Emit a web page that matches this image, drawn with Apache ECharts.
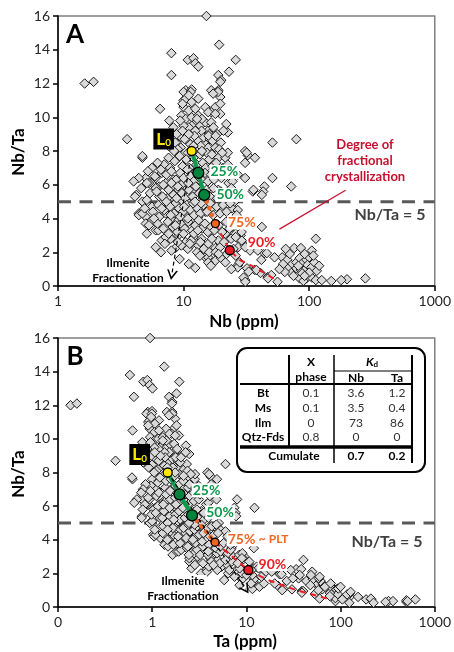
<!DOCTYPE html>
<html>
<head>
<meta charset="utf-8">
<script src="https://cdn.jsdelivr.net/npm/echarts@6/dist/echarts.min.js"></script>
<style>
  html, body { margin: 0; padding: 0; background: #fff; }
  #chart { width: 454px; height: 652px; }
</style>
</head>
<body>
<div id="chart"></div>
<script>
// Whole-rock samples: [Nb (ppm), Nb/Ta]
const samples = [
  [15.2,16.0],[19.2,14.3],[8.0,13.8],[10.8,13.4],[12.0,13.5],[12.4,13.2],[13.1,13.0],[26.0,13.4],[8.0,12.5],
  [1.63,12.0],[1.92,12.1],[18.9,12.5],[19.9,12.2],[23.0,12.7],[19.6,12.1],
  [10.4,11.6],[11.6,11.65],[10.0,11.0],[13.1,11.1],[16.6,11.6],[18.9,11.6],[19.6,11.2],[17.9,10.6],[14.9,10.6],
  [16.6,10.3],[6.5,10.5],[18.8,11.5],[17.2,11.4],[10.0,11.5],[11.4,11.5],[10.4,11.1],[11.6,10.9],[11.0,11.3],
  [19.6,10.8],[19.6,10.2],[15.7,10.3],[17.9,10.2],[10.0,10.6],[11.0,10.4],[12.4,10.5],[9.6,10.1],[10.4,9.9],
  [11.6,10.0],[13.1,10.1],[12.6,9.7],[11.6,9.5],[13.6,9.5],[14.9,9.7],[16.6,9.7],[15.7,9.2],[13.9,9.2],
  [12.4,9.2],[11.0,9.4],[10.0,9.5],[21.9,9.6],[22.5,9.1],[51,8.5],[3.55,8.7],[79,8.7],
  [7.7,9.8],[8.3,9.4],[9.1,8.9],[8.6,8.5],[9.6,8.8],[10.7,8.6],[13.1,8.6],[14.9,8.5],[15.7,8.2],[17.9,8.2],
  [18.9,7.6],[21.5,7.6],[30.9,8.0],[32.4,7.75],[30.9,7.3],[37,7.6],[22.5,7.9],[31.8,7.9],
  [4.7,7.6],[7.6,7.6],[8.8,7.5],[5.0,6.4],[4.4,6.4],[5.6,6.1],[6.4,5.9],[7.2,6.1],[8.1,5.9],[9.1,5.7],
  [10.4,5.9],[11.6,5.6],[13.1,5.8],[15.7,5.6],[18.9,5.7],[22.8,6.1],[30.9,6.4],[44,5.9],[51,6.4],[35.6,5.6],
  [72,5.9],[36,5.7],[43,5.6],[42,5.4],[42,3.5],
  [4.0,6.2],[5.3,6.1],[6.0,5.8],[6.9,6.0],[8.3,6.3],[9.6,6.0],[4.2,5.4],[4.7,5.0],[5.1,5.1],[5.6,4.7],
  [6.4,5.3],[7.4,5.2],[8.6,4.9],[9.6,5.1],[11.0,4.9],[12.4,4.7],
  [4.4,4.3],[5.0,4.1],[5.6,3.9],[6.4,4.1],[7.2,4.3],[8.1,4.0],[9.1,3.9],[10.4,4.2],[11.6,3.9],[13.1,4.1],
  [14.9,4.4],[16.6,4.6],
  [5.1,3.1],[6.0,3.3],[6.7,2.7],[7.9,2.8],[9.1,3.0],[10.4,2.6],[12.0,2.9],[13.9,2.8],[13.1,2.4],[15.7,2.5],
  [17.9,2.25],[18.9,2.7],[21.5,3.1],[23.9,2.8],[27.2,2.3],[28.5,3.0],
  [6.6,2.0],[8.6,2.25],[12.4,1.07],[14.9,1.7],[17.9,1.5],[19.9,1.65],[27.2,1.25],[30.9,0.35],[36.9,0.95],
  [41,0.77],[46.7,0.53],
  [4.1,5.3],[4.4,4.2],[4.7,4.3],[5.0,3.7],[5.1,6.1],[6.0,6.4],[6.7,6.7],[6.3,3.3],[7.2,2.9],[11,2.3],
  [15.7,1.7],[15.7,1.4],[4.7,7.7],
  [113,2.8],[76,2.25],[86,2.25],[105,2.1],[61,1.7],[67,1.55],[72,1.25],[79,1.4],[84,1.65],[88,1.35],
  [95,1.55],[100,1.7],[79,1.05],[86,0.95],[95,1.05],[67,1.05],[72,0.77],[64,0.83],[97,1.25],[104,1.1],
  [84,0.45],[95,0.45],[105,0.5],[113,0.35],[126,0.35],[150,0.3],[200,0.4],[280,0.45],[90,0.3],[180,0.35],
  [70,1.9],[92,1.9],[82,1.2],[110,1.4],[62,1.3],[75,0.6],[100,0.8],[88,0.75],[115,0.9],[58,1.0],
  [65,2.2],[108,1.8],[120,1.2],[92,0.6],
  [26.7,2.85],[30.9,2.4],[33.8,2.1],[41.6,1.55],[44,1.95],[38,0.95],[39,2.1],[46,1.95],[53,1.7],[30,0.5],
  [32,1.05],[50,0.65],[56,0.25],[47,0.45],[27,1.1],[33,0.85],[31,0.25],[26,3.1],[29,2.7],[31,2.3],
  [24.3,4.6],[27,4.5],[26.5,4.2],[29,3.8],[24.3,3.5],[29,3.2],[26,2.9],
  [9.5,8.2],[10.2,8.7],[11.3,8.4],[12.2,8.9],[12.8,8.1],[13.7,8.3],[14.5,8.8],[15.3,7.9],[16.2,8.7],
  [10.8,7.9],[9.0,8.1],[8.4,8.0],[7.6,8.3],[6.9,8.6],
  [7.0,7.2],[7.8,7.0],[8.5,7.4],[9.3,7.7],[9.8,7.1],[10.5,7.5],[11.1,7.0],[12.0,7.6],[12.7,7.2],[13.5,7.8],
  [14.2,7.3],[15.0,7.0],[16.0,7.5],[17.0,7.1],[18.2,7.3],[6.2,7.3],[5.6,7.0],[20.5,7.0],[22.5,7.2],
  [5.2,6.8],[5.9,6.5],[6.6,6.9],[7.3,6.6],[8.0,6.8],[8.7,6.3],[9.4,6.7],[10.0,6.4],[10.7,6.9],[11.4,6.5],
  [12.0,6.2],[12.6,6.8],[13.9,6.3],[14.8,6.7],[15.6,6.2],[16.5,6.6],[17.5,6.3],[18.8,6.8],[20.0,6.4],
  [21.5,6.7],[24.5,6.2],[27.0,6.6],
  [4.6,5.8],[5.4,5.5],[6.1,5.6],[6.8,5.3],[7.6,5.7],[8.3,5.4],[9.0,5.9],[9.7,5.5],[10.3,5.2],[11.0,5.7],
  [11.8,5.3],[12.5,5.9],[13.3,5.5],[14.0,5.1],[15.2,5.7],[16.2,5.3],[17.3,5.8],[18.5,5.2],[19.8,5.6],
  [21.0,5.3],[22.8,5.5],[25.5,5.0],[28,5.5],[24,5.8],
  [4.9,4.6],[5.7,4.4],[6.3,4.8],[7.0,4.5],[7.8,4.7],[8.4,4.3],[9.2,4.6],[9.9,4.4],[10.6,4.8],[11.3,4.5],
  [12.1,4.2],[12.9,4.6],[13.6,4.3],[14.4,4.8],[15.4,4.4],[16.3,4.9],[17.2,4.2],[18.3,4.7],[19.5,4.3],
  [20.6,4.8],[22.0,4.4],[23.5,4.9],
  [5.3,3.6],[6.2,3.7],[6.9,3.4],[7.5,3.8],[8.2,3.5],[8.9,3.2],[9.5,3.7],[10.2,3.4],[10.9,3.8],[11.7,3.3],
  [12.4,3.6],[13.2,3.9],[14.0,3.4],[14.8,3.7],[15.6,3.2],[16.6,3.5],[17.6,3.3],[19.0,3.6],[20.3,3.2],
  [21.8,3.8],[23.2,3.4],[25,3.7],
  [6.0,2.3],[7.1,2.5],[8.0,2.1],[9.6,2.4],[10.8,2.2],[11.5,2.7],[12.8,2.0],[13.6,2.6],[14.5,2.2],[16.0,2.0],
  [16.8,2.8],[18.0,2.0],[19.5,2.3],[21.0,2.6],[22.0,1.9],[25,2.2],
  [9.3,1.6],[11.0,1.3],[13.5,1.8],[16.5,1.2],[19.0,1.9],[21.5,1.4],[24,1.0],[26,1.8],[28,1.4],
  [9.8,10.8],[14.0,9.9],[16.0,9.0],[17.3,9.4],[18.5,9.0],[19.8,8.5],[20.8,9.2],[8.8,9.0],[9.4,9.8],[12.8,9.9],
  [15.8,8.9],[17.0,8.6],[18.0,8.9],[19.2,8.1],[20.3,7.9],[16.8,7.8],[14.0,8.0],[12.0,8.3],[11.0,9.0],[9.8,9.2],
  [7.3,5.0],[8.8,5.2],[10.1,4.7],[11.9,4.9],[13.8,4.9],[12.3,5.0],[7.9,4.2],[9.4,4.1],[10.8,4.0],[6.7,4.6],
  [8.6,3.6],[10.0,3.1],[12.1,3.1],[13.0,3.3],[7.6,3.1],[11.2,2.5],[9.0,2.6],[5.8,4.0],[8.0,6.1],[10.9,6.1]
];

// Rayleigh fractionation path, Nb vs Nb/Ta: L0, 25 %, 50 %, 75 %, 90 % crystallised
const stepLabels = ['L0', '25%', '50%', '75%', '90%'];
const stepsNb = [[11.6, 8.0], [13.1, 6.7], [14.6, 5.4], [17.9, 3.7], [23.3, 2.12]];
const tailNb = [[28, 1.54], [36.8, 1.12], [44, 0.77], [55, 0.33]];
const ilmeniteNb = [[11.6, 8.0], [8.05, 0.65]];

// Same path in Ta vs Nb/Ta space
const stepsTa = [[1.46, 8.0], [1.95, 6.7], [2.65, 5.45], [4.65, 3.85], [10.5, 2.2]];
const tailTa = [[17, 1.6], [34, 1.0], [72, 0.5]];
const ilmeniteTa = [[1.46, 8.0], [9.87, 1.05]];

// Pointer from the "Degree of fractional crystallization" note, in Nb vs Nb/Ta space
const notePointer = [[195, 5.68], [58, 3.37]];

const ratioLimit = 5;
const yTicks = { min: 0, max: 16, step: 2 };
const xRangeNb = [1, 1000];
const xRangeTa = [0.1, 1000];

// Partition coefficient table
const tableHead = ['X', 'phase', 'Nb', 'Ta'];
const phases = ['Bt', 'Ms', 'Ilm', 'Qtz-Fds'];
const xPhase = ['0.1', '0.1', '0', '0.8'];
const kdNb = ['3.6', '3.5', '73', '0'];
const kdTa = ['1.2', '0.4', '86', '0'];
const cumulate = ['0.7', '0.2'];

const FONT = 'Lato, "Open Sans", "DejaVu Sans", sans-serif';
const GREEN = '#0e9a4c', ORANGE = '#f26522', RED = '#ec1c24', CRIMSON = '#c8102e';

const samplesTa = samples.map(([nb, r]) => [nb / r, r]);

function xAxis(idx, range, fmt) {
  return {
    type: 'log', logBase: 10, gridIndex: idx, min: range[0], max: range[1],
    axisLine: { lineStyle: { color: '#000', width: 1.5 } },
    axisTick: { length: 5, lineStyle: { color: '#000', width: 1.5 } },
    minorTick: { show: false },
    splitLine: { show: false },
    axisLabel: { fontSize: 14, color: '#262626', margin: 8, fontFamily: FONT, formatter: fmt }
  };
}
function yAxis(idx) {
  return {
    type: 'value', gridIndex: idx, min: yTicks.min, max: yTicks.max, interval: yTicks.step,
    axisLine: { show: true, lineStyle: { color: '#000', width: 1.5 } },
    axisTick: { show: true, length: 5, lineStyle: { color: '#000', width: 1.5 } },
    splitLine: { show: false },
    axisLabel: { fontSize: 14, color: '#262626', margin: 8, fontFamily: FONT }
  };
}

function refLine(idx, range) {
  return {
    type: 'line', xAxisIndex: idx, yAxisIndex: idx, z: 1, silent: true,
    data: [[range[0], ratioLimit], [range[1], ratioLimit]],
    symbol: 'none', lineStyle: { color: '#595959', width: 3, type: [13, 8.5] }
  };
}
function cloud(idx, data) {
  return {
    type: 'scatter', xAxisIndex: idx, yAxisIndex: idx, z: 2, data,
    symbol: 'diamond', symbolSize: 9.5,
    itemStyle: { color: '#d9d9d9', borderColor: '#1a1a1a', borderWidth: 1, opacity: 1 }
  };
}
function pathLine(idx, data, style) {
  return {
    type: 'line', xAxisIndex: idx, yAxisIndex: idx, z: 4, data,
    symbol: 'none', silent: true, lineStyle: style
  };
}

const chevron = 'path://M0,10L5,0L10,10L8.4,10L5,3.2L1.6,10Z';

function ilmeniteArrow(idx, pts, curve) {
  return {
    type: 'line', xAxisIndex: idx, yAxisIndex: idx, z: 3, data: [], silent: true,
    markLine: {
      silent: true, animation: false,
      symbol: ['none', chevron], symbolSize: [11, 10],
      label: { show: false },
      lineStyle: { color: '#000', width: 1.2, type: [4, 3], curveness: curve, opacity: 1 },
      data: [[{ coord: pts[0] }, { coord: pts[1] }]]
    }
  };
}

const pctColors = ['#ffe600', '#00843d', '#00843d', ORANGE, RED];
const pctText = [null, GREEN, GREEN, ORANGE, RED];
const pctSize = [9, 11, 11, 8, 9];

function milestones(idx, steps, labelLayout, l0Offset) {
  return {
    type: 'scatter', xAxisIndex: idx, yAxisIndex: idx, z: 6,
    data: steps.map((p, i) => {
      let label;
      if (i === 0) {
        label = {
          show: true, position: 'inside', offset: l0Offset,
          formatter: '{m|L}{s|0}', backgroundColor: '#000', padding: [1, 3, 0, 3],
          rich: {
            m: { color: '#ffe600', fontSize: 17, fontWeight: 'bold', fontFamily: FONT, lineHeight: 20 },
            s: { color: '#ffe600', fontSize: 10, fontWeight: 'bold', fontFamily: FONT, lineHeight: 20, padding: [7, 0, 0, 0] }
          }
        };
      } else {
        const lay = labelLayout[i - 1];
        label = {
          show: true, position: 'right', distance: lay[0], offset: [0, lay[1]],
          color: pctText[i], fontSize: 14, fontWeight: 'bold', fontFamily: FONT,
          backgroundColor: '#fff', padding: [0, 1],
          formatter: lay[2] || stepLabels[i],
          rich: {
            p: { color: pctText[i], fontSize: 14, fontWeight: 'bold', fontFamily: FONT },
            t: { color: pctText[i], fontSize: 12, fontWeight: 'bold', fontFamily: FONT }
          }
        };
      }
      return {
        value: p, symbol: 'circle', symbolSize: pctSize[i],
        itemStyle: { color: pctColors[i], borderColor: '#000', borderWidth: 1.3, opacity: 1 },
        label
      };
    })
  };
}

function txt(x, y, text, o) {
  return {
    type: 'text', x, y, z: 100, rotation: (o && o.rotation) || 0,
    style: Object.assign({
      text, align: 'center', verticalAlign: 'middle',
      fontFamily: FONT, fontSize: 12, fontWeight: 'bold', fill: '#000'
    }, o && o.style)
  };
}
function seg(x1, y1, x2, y2, w) {
  return { type: 'line', z: 100, shape: { x1, y1, x2, y2 }, style: { stroke: '#000', lineWidth: w } };
}

// Kd table drawn in panel B
const T = { left: 237, top: 348, right: 425, bottom: 472, c0: 263, c1: 311, c2: 356, c3: 397 };
const rowsY = [393, 408, 423, 437];
const tableGraphics = [
  { type: 'rect', z: 99, shape: { x: T.left, y: T.top, width: T.right - T.left, height: T.bottom - T.top, r: 10 },
    style: { fill: '#fff', stroke: '#000', lineWidth: 2 } },
  seg(289, 355, 289, 447, 2),
  seg(334, 355, 334, 463, 1.5),
  seg(412, 355, 412, 463, 2),
  seg(334, 371, 412, 371, 1),
  seg(240, 384, 412, 384, 2),
  seg(240, 447, 412, 447, 3.5),
  txt(T.c1, 362, tableHead[0]),
  txt(T.c1, 377, tableHead[1]),
  { type: 'text', x: 372, y: 362, z: 100, style: {
      text: '{k|K}{d|d}', align: 'center', verticalAlign: 'middle',
      rich: {
        k: { fontFamily: FONT, fontSize: 12, fontWeight: 'bold', fontStyle: 'italic', fill: '#000', lineHeight: 14 },
        d: { fontFamily: FONT, fontSize: 8, fontWeight: 'bold', fill: '#000', lineHeight: 14, padding: [5, 0, 0, 0] }
      } } },
  txt(T.c2, 378, tableHead[2]),
  txt(T.c3, 378, tableHead[3]),
  txt(294, 456, 'Cumulate'),
  txt(T.c2, 456, cumulate[0]),
  txt(T.c3, 456, cumulate[1])
];
phases.forEach((ph, i) => {
  tableGraphics.push(txt(T.c0, rowsY[i], ph));
  tableGraphics.push(txt(T.c1, rowsY[i], xPhase[i], { style: { fontWeight: 'normal', fill: '#333' } }));
  tableGraphics.push(txt(T.c2, rowsY[i], kdNb[i], { style: { fontWeight: 'normal', fill: '#333' } }));
  tableGraphics.push(txt(T.c3, rowsY[i], kdTa[i], { style: { fontWeight: 'normal', fill: '#333' } }));
});

const decade = v => (v < 1 ? '0' : String(Math.round(v)));

const chart = echarts.init(document.getElementById('chart'), null, { renderer: 'canvas' });
chart.setOption({
  animation: false,
  backgroundColor: '#fff',
  grid: [
    { left: 58, top: 16, width: 381, height: 270, show: true, borderColor: '#808080', borderWidth: 1.5 },
    { left: 58, top: 338, width: 381, height: 269, show: true, borderColor: '#808080', borderWidth: 1.5 }
  ],
  xAxis: [xAxis(0, xRangeNb, decade), xAxis(1, xRangeTa, decade)],
  yAxis: [yAxis(0), yAxis(1)],
  series: [
    // Panel A: Nb vs Nb/Ta
    refLine(0, xRangeNb),
    cloud(0, samples),
    ilmeniteArrow(0, ilmeniteNb, 0),
    pathLine(0, stepsNb.slice(0, 3), { color: GREEN, width: 4 }),
    pathLine(0, stepsNb.slice(2, 4), { color: ORANGE, width: 4.5, type: [0.1, 7], cap: 'round' }),
    pathLine(0, [stepsNb[3], stepsNb[4]].concat(tailNb), { color: RED, width: 2, type: [6, 5] }),
    {
      type: 'line', xAxisIndex: 0, yAxisIndex: 0, data: [], z: 7, silent: true,
      markLine: {
        silent: true, symbol: ['none', 'arrow'], symbolSize: [0, 10], label: { show: false },
        lineStyle: { color: CRIMSON, width: 1.2, type: 'solid', curveness: 0.12, opacity: 1 },
        data: [[{ coord: notePointer[0] }, { coord: notePointer[1] }]]
      }
    },
    milestones(0, stepsNb, [[5, -1], [5, 0], [7, -1], [12, -8]], [-28, -12]),

    // Panel B: Ta vs Nb/Ta
    refLine(1, xRangeTa),
    cloud(1, samplesTa),
    ilmeniteArrow(1, ilmeniteTa, -0.15),
    pathLine(1, stepsTa.slice(0, 3), { color: GREEN, width: 4 }),
    pathLine(1, stepsTa.slice(2, 4), { color: ORANGE, width: 4.5, type: [0.1, 7], cap: 'round' }),
    pathLine(1, [stepsTa[3], stepsTa[4]].concat(tailTa), { color: RED, width: 2, type: [6, 5] }),
    milestones(1, stepsTa, [[6, -4], [7, -3], [7, -3, '{p|75%} {t|~ PLT}'], [4, -6]], [-28, -18])
  ],
  graphic: [
    txt(75, 35, 'A', { style: { fontSize: 26 } }),
    txt(75, 357, 'B', { style: { fontSize: 26 } }),
    txt(19, 152, 'Nb/Ta', { rotation: Math.PI / 2, style: { fontSize: 17 } }),
    txt(19, 474, 'Nb/Ta', { rotation: Math.PI / 2, style: { fontSize: 17 } }),
    txt(244, 322, 'Nb (ppm)', { style: { fontSize: 17 } }),
    txt(245, 642, 'Ta (ppm)', { style: { fontSize: 17 } }),
    txt(390, 215, 'Nb/Ta = 5', { style: { fontSize: 16, fill: '#404040' } }),
    txt(387, 542, 'Nb/Ta = 5', { style: { fontSize: 16, fill: '#404040' } }),
    txt(128, 263, 'Ilmenite', { style: { fontSize: 12 } }),
    txt(128, 278, 'Fractionation', { style: { fontSize: 12 } }),
    txt(183, 581, 'Ilmenite', { style: { fontSize: 12, backgroundColor: '#fff', padding: [0, 2] } }),
    txt(183, 596, 'Fractionation', { style: { fontSize: 12, backgroundColor: '#fff', padding: [0, 2] } }),
    txt(365, 145, 'Degree of', { style: { fontSize: 13, fill: CRIMSON } }),
    txt(365, 161, 'fractional', { style: { fontSize: 13, fill: CRIMSON } }),
    txt(365, 177, 'crystallization', { style: { fontSize: 13, fill: CRIMSON } })
  ].concat(tableGraphics)
});
</script>
</body>
</html>
